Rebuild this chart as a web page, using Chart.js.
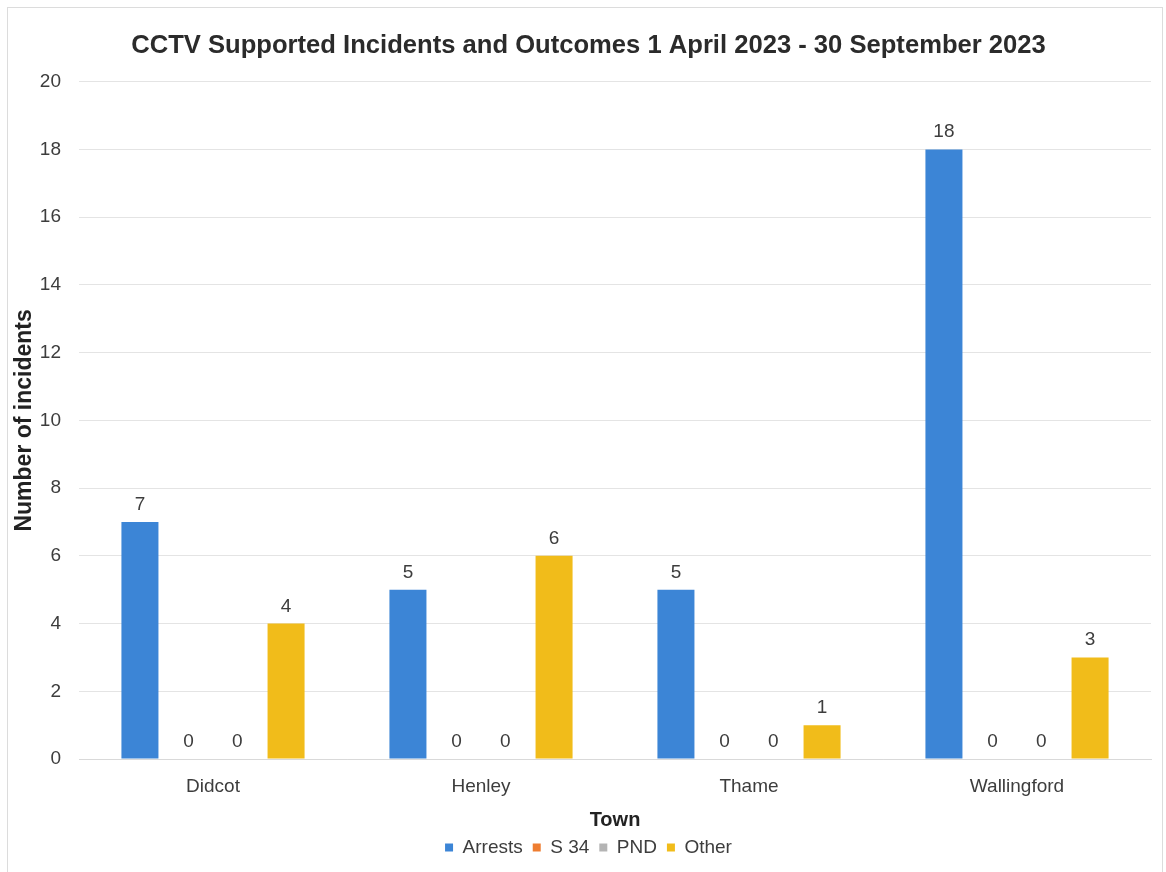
<!DOCTYPE html>
<html>
<head>
<meta charset="utf-8">
<title>CCTV Supported Incidents and Outcomes</title>
<script src="https://cdn.jsdelivr.net/npm/chart.js@4.4.1/dist/chart.umd.min.js"></script>
<style>
    html, body { margin: 0; padding: 0; background: #fff; }
    #wrap { position: relative; width: 1166px; height: 872px; }
    #frame {
        position: absolute; left: 7px; top: 7px; width: 1156px; height: 880px;
        border: 1px solid #dcdcdc; box-sizing: border-box; pointer-events: none;
    }
    canvas { display: block; }
</style>
</head>
<body>
<div id="wrap">
    <canvas id="grafico" width="1166" height="872"></canvas>
    <div id="frame"></div>
</div>
<script>
// Dados: incidentes por cidade
const towns = ["Didcot", "Henley", "Thame", "Wallingford"];
const arrests = [7, 5, 5, 18];
const s34 = [0, 0, 0, 0];
const pnd = [0, 0, 0, 0];
const other = [4, 6, 1, 3];
const yTicks = [0, 2, 4, 6, 8, 10, 12, 14, 16, 18, 20];

const textColor = '#3d3d3d';
const fontFamily = '"Liberation Sans", Arial, sans-serif';

// Escreve o valor acima de cada barra
const rotulosBarras = {
    id: 'rotulosBarras',
    afterDatasetsDraw(chart) {
        const ctx = chart.ctx;
        ctx.save();
        ctx.font = '19px ' + fontFamily;
        ctx.fillStyle = textColor;
        ctx.textAlign = 'center';
        ctx.textBaseline = 'alphabetic';
        chart.data.datasets.forEach((ds, i) => {
            const meta = chart.getDatasetMeta(i);
            meta.data.forEach((bar, j) => {
                ctx.fillText(String(ds.data[j]), bar.x, bar.y - 12);
            });
        });
        ctx.restore();
    }
};

const contexto = document.getElementById('grafico').getContext('2d');

new Chart(contexto, {
    type: 'bar',
    data: {
        labels: towns,
        datasets: [
            { label: 'Arrests', data: arrests, backgroundColor: '#3c85d6' },
            { label: 'S 34', data: s34, backgroundColor: '#ee7d31' },
            { label: 'PND', data: pnd, backgroundColor: '#b4b4b4' },
            { label: 'Other', data: other, backgroundColor: '#f1bc1a' }
        ]
    },
    options: {
        responsive: false,
        animation: false,
        devicePixelRatio: 1,
        layout: { padding: { left: 26, right: 15, top: 0, bottom: 5 } },
        datasets: {
            bar: { categoryPercentage: 0.727, barPercentage: 0.76 }
        },
        scales: {
            x: {
                grid: { display: false },
                border: { display: true, color: '#d9d9d9' },
                ticks: {
                    color: textColor,
                    padding: 8,
                    font: { family: fontFamily, size: 19 }
                },
                title: {
                    display: true,
                    text: 'Town',
                    color: '#222',
                    padding: { top: 0, bottom: -4 },
                    font: { family: fontFamily, size: 20, weight: 'bold' }
                },
                afterFit(scale) { scale.height = 69; }
            },
            y: {
                min: 0,
                max: 20,
                afterBuildTicks(scale) {
                    scale.ticks = yTicks.map(v => ({ value: v }));
                },
                grid: { color: '#e4e4e4', drawTicks: false },
                border: { display: false },
                ticks: {
                    color: textColor,
                    padding: 18,
                    font: { family: fontFamily, size: 19 }
                },
                title: {
                    display: true,
                    text: 'Number of incidents',
                    color: '#222',
                    padding: { top: -15, bottom: 0 },
                    font: { family: fontFamily, size: 23, weight: 'bold' }
                },
                afterFit(scale) { scale.width = 53; }
            }
        },
        plugins: {
            title: {
                display: true,
                text: 'CCTV Supported Incidents and Outcomes 1 April 2023 - 30 September 2023',
                color: '#2b2b2b',
                padding: { top: 31, bottom: 20 },
                font: { family: fontFamily, size: 25.6, weight: 'bold' }
            },
            legend: {
                position: 'bottom',
                labels: {
                    color: textColor,
                    boxWidth: 8,
                    boxHeight: 8,
                    padding: 10,
                    font: { family: fontFamily, size: 19 }
                }
            },
            tooltip: { enabled: false }
        }
    },
    plugins: [rotulosBarras]
});
</script>
</body>
</html>
